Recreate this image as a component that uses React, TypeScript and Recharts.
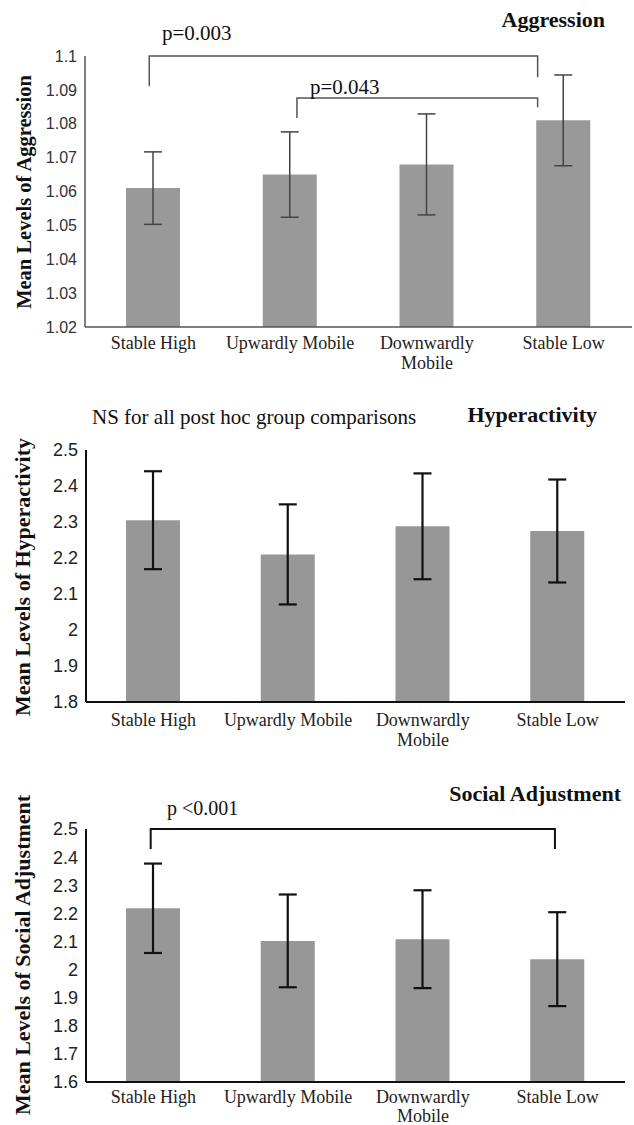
import React from "react";
import { BarChart, Bar, XAxis, YAxis, ErrorBar } from "recharts";

const SERIF = "'Liberation Serif', 'Times New Roman', serif";
const SANS = "'Liberation Sans', Arial, sans-serif";

// categories shared by the three panels
const categories = ["Stable High", "Upwardly Mobile", "Downwardly\nMobile", "Stable Low"];

// Aggression panel
const aggressionMeans = [1.061, 1.065, 1.068, 1.081];
const aggressionErrors = [0.0107, 0.0126, 0.0149, 0.0134];
const aggressionTicks = [1.02, 1.03, 1.04, 1.05, 1.06, 1.07, 1.08, 1.09, 1.1];

// Hyperactivity panel
const hyperMeans = [2.305, 2.21, 2.288, 2.275];
const hyperErrors = [0.136, 0.139, 0.147, 0.143];
const hyperTicks = [1.8, 1.9, 2, 2.1, 2.2, 2.3, 2.4, 2.5];

// Social adjustment panel
const socialMeans = [2.218, 2.102, 2.108, 2.037];
const socialErrors = [0.159, 0.165, 0.174, 0.167];
const socialTicks = [1.6, 1.7, 1.8, 1.9, 2, 2.1, 2.2, 2.3, 2.4, 2.5];

type Bracket = { from: number; to: number; top: number; leftEnd: number; rightEnd: number };

// bracket ends in category units (0..4 across the plot) and y in data units
const aggressionBrackets: Bracket[] = [
  { from: 0.47, to: 3.31, top: 1.1, leftEnd: 1.0911, rightEnd: 1.0937 },
  { from: 1.55, to: 3.31, top: 1.0876, leftEnd: 1.0817, rightEnd: 1.0849 },
];
const socialBrackets: Bracket[] = [
  { from: 0.48, to: 3.48, top: 2.5, leftEnd: 2.429, rightEnd: 2.429 },
];

type PanelProps = {
  means: number[];
  errors: number[];
  ticks: number[];
  top: number;
  height: number;
  margin: { top: number; right: number; bottom: number; left: number };
  yWidth: number;
  xHeight: number;
  tickFont: number;
  tickColor: string;
  labelDy: number;
  lineGap: number;
  axisColor: string;
  axisWidth: number;
  errColor: string;
  errWidth: number;
  barFill: string;
  brackets: Bracket[];
  bracketColor: string;
  bracketWidth: number;
};

const W = 634;
const fmt = (v: number) => String(+v.toFixed(2));

const CategoryTick = (props: any) => {
  const { x, y, payload, dyFirst, gap, color } = props;
  const lines = String(payload.value).split("\n");
  return (
    <text x={x} y={y} textAnchor="middle" fontFamily={SERIF} fontSize={18} fill={color}>
      {lines.map((l, i) => (
        <tspan key={i} x={x} dy={i === 0 ? dyFirst : gap}>
          {l}
        </tspan>
      ))}
    </text>
  );
};

const Panel: React.FC<PanelProps> = (p) => {
  const data = categories.map((c, i) => ({ name: c, mean: p.means[i], err: p.errors[i] }));
  const lo = p.ticks[0];
  const hi = p.ticks[p.ticks.length - 1];

  // plot box, same as the one recharts lays out from margin + axis sizes
  const left = p.margin.left + p.yWidth;
  const right = W - p.margin.right;
  const topY = p.margin.top;
  const bottom = p.height - p.margin.bottom - p.xHeight;
  const xOf = (u: number) => left + (u * (right - left)) / categories.length;
  const yOf = (v: number) => topY + ((hi - v) / (hi - lo)) * (bottom - topY);

  return (
    <div style={{ position: "absolute", left: 0, top: p.top, width: W, height: p.height }}>
      <BarChart width={W} height={p.height} data={data} margin={p.margin} barSize={54}>
        <XAxis
          dataKey="name"
          height={p.xHeight}
          tickLine={false}
          tickSize={0}
          tickMargin={0}
          interval={0}
          axisLine={{ stroke: p.axisColor, strokeWidth: p.axisWidth }}
          tick={<CategoryTick dyFirst={p.labelDy} gap={p.lineGap} color="#222" />}
        />
        <YAxis
          width={p.yWidth}
          domain={[lo, hi]}
          ticks={p.ticks}
          allowDataOverflow
          interval={0}
          tickLine={false}
          tickSize={0}
          tickMargin={8}
          tickFormatter={fmt}
          axisLine={{ stroke: p.axisColor, strokeWidth: p.axisWidth }}
          tick={{ fontFamily: SANS, fontSize: p.tickFont, fill: p.tickColor }}
        />
        <Bar dataKey="mean" fill={p.barFill} isAnimationActive={false}>
          <ErrorBar dataKey="err" width={9} stroke={p.errColor} strokeWidth={p.errWidth} />
        </Bar>
      </BarChart>
      {p.brackets.length > 0 && (
        <svg
          width={W}
          height={p.height}
          style={{ position: "absolute", left: 0, top: 0, pointerEvents: "none" }}
        >
          {p.brackets.map((b, i) => (
            <path
              key={i}
              d={`M ${xOf(b.from)} ${yOf(b.leftEnd)} V ${yOf(b.top)} H ${xOf(b.to)} V ${yOf(b.rightEnd)}`}
              fill="none"
              stroke={p.bracketColor}
              strokeWidth={p.bracketWidth}
            />
          ))}
        </svg>
      )}
    </div>
  );
};

const App: React.FC = () => {
  return (
    <div style={{ position: "absolute", left: 0, top: 0, width: W, height: 1125, background: "#fff" }}>
      <Panel
        means={aggressionMeans}
        errors={aggressionErrors}
        ticks={aggressionTicks}
        top={0}
        height={376}
        margin={{ top: 56, right: 2, bottom: 19, left: 0 }}
        yWidth={85}
        xHeight={30}
        tickFont={16}
        tickColor="#333"
        labelDy={22}
        lineGap={20}
        axisColor="#555"
        axisWidth={1.5}
        errColor="#444"
        errWidth={1.5}
        barFill="#999999"
        brackets={aggressionBrackets}
        bracketColor="#555"
        bracketWidth={1.5}
      />
      <Panel
        means={hyperMeans}
        errors={hyperErrors}
        ticks={hyperTicks}
        top={370}
        height={380}
        margin={{ top: 80, right: 9, bottom: 8, left: 0 }}
        yWidth={86}
        xHeight={40}
        tickFont={18}
        tickColor="#222"
        labelDy={24}
        lineGap={20}
        axisColor="#111"
        axisWidth={2}
        errColor="#111"
        errWidth={2.2}
        barFill="#979797"
        brackets={[]}
        bracketColor="#111"
        bracketWidth={2}
      />
      <Panel
        means={socialMeans}
        errors={socialErrors}
        ticks={socialTicks}
        top={750}
        height={375}
        margin={{ top: 79, right: 9, bottom: 3, left: 0 }}
        yWidth={86}
        xHeight={40}
        tickFont={18}
        tickColor="#222"
        labelDy={21}
        lineGap={19}
        axisColor="#111"
        axisWidth={2}
        errColor="#111"
        errWidth={2.2}
        barFill="#979797"
        brackets={socialBrackets}
        bracketColor="#111"
        bracketWidth={2}
      />
      <svg
        width={W}
        height={1125}
        style={{ position: "absolute", left: 0, top: 0, pointerEvents: "none" }}
      >
        <g fontFamily={SERIF} fill="#111">
          <text x={605} y={27} textAnchor="end" fontSize={22} fontWeight="bold">Aggression</text>
          <text x={162} y={40} fontSize={21}>p=0.003</text>
          <text x={310} y={94} fontSize={21}>p=0.043</text>
          <text x={31} y={192} fontSize={20.5} fontWeight="bold" textAnchor="middle" transform="rotate(-90 31 192)">
            Mean Levels of Aggression
          </text>

          <text x={92} y={424} fontSize={21}>NS for all post hoc group comparisons</text>
          <text x={597} y={422} textAnchor="end" fontSize={22} fontWeight="bold">Hyperactivity</text>
          <text x={30} y={577} fontSize={22} fontWeight="bold" textAnchor="middle" transform="rotate(-90 30 577)">
            Mean Levels of Hyperactivity
          </text>

          <text x={621} y={801} textAnchor="end" fontSize={22} fontWeight="bold">Social Adjustment</text>
          <text x={167} y={815} fontSize={20}>p &lt;0.001</text>
          <text x={30} y={955} fontSize={22} fontWeight="bold" textAnchor="middle" transform="rotate(-90 30 955)">
            Mean Levels of Social Adjustment
          </text>
        </g>
      </svg>
    </div>
  );
};

export default App;
